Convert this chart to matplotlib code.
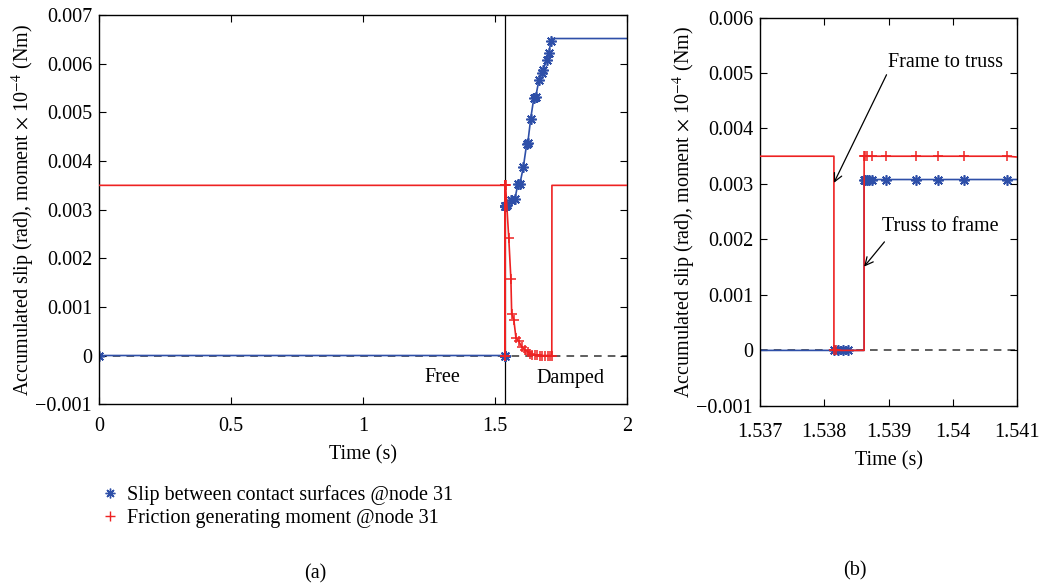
import numpy as np
import matplotlib.pyplot as plt
from matplotlib.lines import Line2D

plt.rcParams['font.family'] = ['Liberation Serif', 'DejaVu Serif']
plt.rcParams['mathtext.fontset'] = 'stix'

# Slip between contact surfaces @node 31 (rad)
slip_t = [0.0, 1.53815, 1.53822, 1.53829, 1.53837, 1.53862,
          1.53862, 1.53864, 1.53866, 1.53869, 1.53874, 1.53896, 1.53943,
          1.53977, 1.54018, 1.54084, 1.548, 1.562, 1.576, 1.587, 1.595,
          1.608, 1.621, 1.625, 1.636, 1.648, 1.655, 1.667, 1.678, 1.682,
          1.697, 1.705, 1.712, 1.716, 2.0]
slip_v = [0.0, 0.0, 0.0, 0.0, 0.0, 0.0,
          0.00308, 0.00308, 0.00308, 0.00308, 0.00308, 0.00308, 0.00308,
          0.00308, 0.00308, 0.00308, 0.00310, 0.00320, 0.00321, 0.00352, 0.00353,
          0.00387, 0.00436, 0.00437, 0.00487, 0.00530, 0.00532, 0.00566, 0.00581, 0.00587,
          0.00607, 0.00622, 0.00646, 0.00652, 0.00652]
slip_marks = [0, 1, 2, 3, 4] + list(range(6, 33))

# Friction generating moment @node 31 (Nm x 1e-4)
fric_t = [0.0, 1.53815, 1.53815, 1.53818, 1.53862,
          1.53862, 1.53864, 1.53866, 1.53874, 1.53896, 1.53943, 1.53977,
          1.54018, 1.54084, 1.553, 1.561, 1.564, 1.572, 1.580, 1.591, 1.602,
          1.614, 1.625, 1.633, 1.642, 1.652, 1.661, 1.670, 1.680, 1.690,
          1.700, 1.708, 1.716, 1.7165, 2.0]
fric_v = [0.0035, 0.0035, 0.0, 0.0, 0.0,
          0.0035, 0.0035, 0.0035, 0.0035, 0.0035, 0.0035, 0.0035,
          0.0035, 0.0035, 0.00241, 0.00157, 0.00086, 0.00074, 0.00037, 0.00029, 0.00018,
          0.00012, 0.00008, 0.00004, 0.00002, 0.00001, 0.00001, 0.0, 0.0, 0.0,
          0.0, 0.0, 0.0, 0.0035, 0.0035]
fric_marks = [2, 3] + list(range(5, 33))

switch_time = 1.54

blue = '#2e4fa8'
red = '#ee2222'
ast = (8, 2, 0)
fs = 14.5

ylabel = r'Accumulated slip (rad), moment $\times$ 10$^{-4}$ (Nm)'

fig = plt.figure(figsize=(10.43, 5.84), dpi=100)
ax1 = fig.add_axes([0.0949, 0.308, 0.506, 0.666])
ax2 = fig.add_axes([0.7287, 0.305, 0.2464, 0.665])


def style(ax, xticks, yticks, xpad, xlabelpad):
    ax.set_xticks(xticks)
    ax.set_yticks(yticks)
    ax.set_xticklabels([f'{v:g}' for v in xticks])
    ax.set_yticklabels([f'{v:g}'.replace('-', '\u2212') for v in yticks])
    ax.tick_params(direction='in', top=True, right=True, length=5,
                   labelsize=fs, pad=5)
    ax.tick_params(axis='x', pad=xpad)
    for s in ax.spines.values():
        s.set_linewidth(1.0)
    ax.set_xlabel('Time (s)', fontsize=fs, labelpad=xlabelpad)
    ax.set_ylabel(ylabel, fontsize=fs, labelpad=-1)


for ax in (ax1, ax2):
    ax.axhline(0, color='#333333', ls=(0, (5, 4)), lw=1.1, zorder=1)
    ax.plot(slip_t, slip_v, color=blue, lw=1.2, marker=ast, ms=7.5, mew=1.2,
            markevery=slip_marks, zorder=2)
    ax.plot(fric_t, fric_v, color=red, lw=1.2, marker='+', ms=7, mew=1.1,
            markevery=fric_marks, zorder=3)

ax1.axvline(switch_time, color='black', lw=0.9, zorder=1)
ax1.set_xlim(0, 2)
ax1.set_ylim(-0.001, 0.007)
style(ax1, [0, 0.5, 1, 1.5, 2], np.round(np.arange(-0.001, 0.0071, 0.001), 3),
      xpad=9, xlabelpad=7)
ax1.text(1.30, -0.00045, 'Free', fontsize=fs, ha='center', va='center')
ax1.text(1.785, -0.00048, 'Damped', fontsize=fs, ha='center', va='center')

ax2.set_xlim(1.537, 1.541)
ax2.set_ylim(-0.001, 0.006)
style(ax2, [1.537, 1.538, 1.539, 1.54, 1.541],
      np.round(np.arange(-0.001, 0.0061, 0.001), 3), xpad=12, xlabelpad=7)
ax2.annotate('Frame to truss', xy=(1.53815, 0.00302), xytext=(1.53899, 0.00519),
             fontsize=fs, ha='left', va='center',
             arrowprops=dict(arrowstyle='->', color='black', lw=0.9,
                             shrinkA=0, shrinkB=0, relpos=(0, 0)))
ax2.annotate('Truss to frame', xy=(1.53862, 0.00151), xytext=(1.53890, 0.00223),
             fontsize=fs, ha='left', va='center',
             arrowprops=dict(arrowstyle='->', color='black', lw=0.9,
                             shrinkA=0, shrinkB=0, relpos=(0.02, -0.3)))

handles = [Line2D([], [], color=blue, marker=ast, ls='none', ms=7, mew=1.0),
           Line2D([], [], color=red, marker='+', ls='none', ms=7, mew=1.0)]
fig.legend(handles, ['Slip between contact surfaces @node 31',
                     'Friction generating moment @node 31'],
           loc='upper left', bbox_to_anchor=(0.087, 0.187), frameon=False,
           fontsize=fs, handlelength=0.9, handletextpad=0.4, labelspacing=0.2,
           borderpad=0)

fig.text(315 / 1043, 1 - 574 / 584, '(a)', fontsize=fs, ha='center', va='center')
fig.text(855 / 1043, 1 - 571 / 584, '(b)', fontsize=fs, ha='center', va='center')

fig.savefig('out.png', dpi=100)
